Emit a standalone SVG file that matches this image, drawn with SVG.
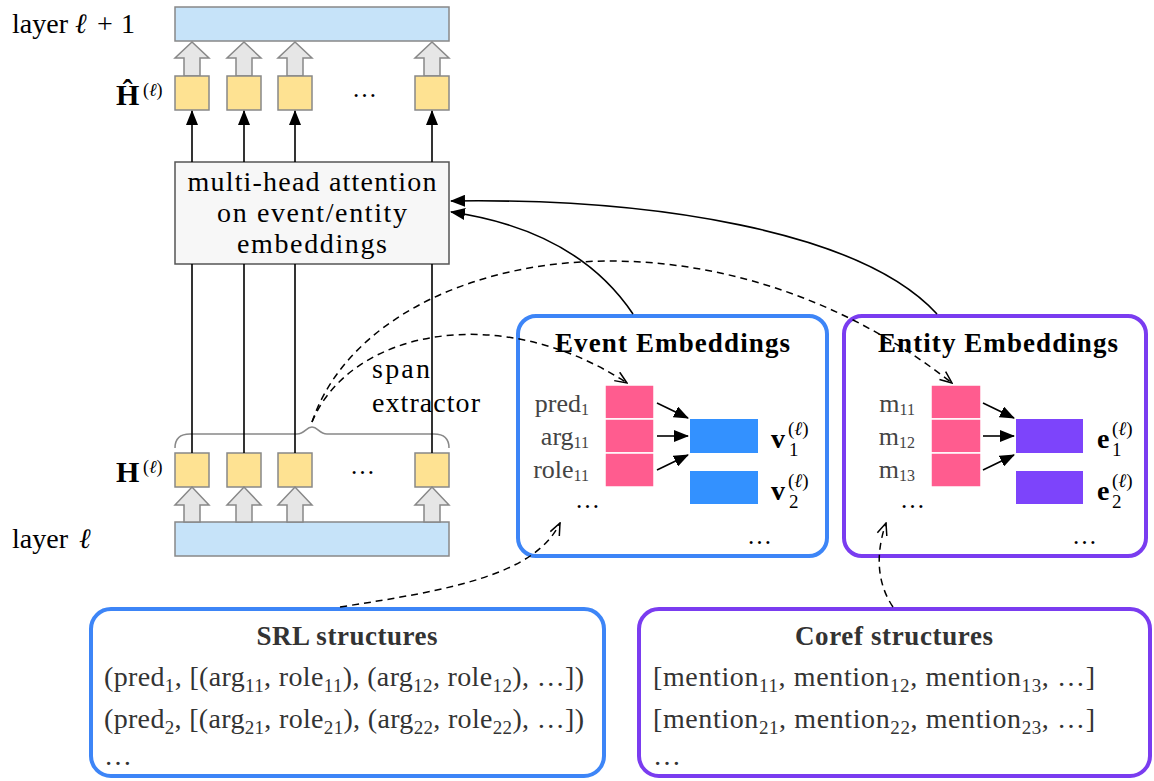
<svg xmlns="http://www.w3.org/2000/svg" width="1154" height="781" viewBox="0 0 1154 781">
  <defs>
    <style>
      .t{font-family:"Liberation Serif","DejaVu Serif",serif;fill:#000}
      .g{fill:#444}
      .d{fill:#333}
      .b{font-weight:bold}
      .layer{fill:#c6e3f9;stroke:#888;stroke-width:1.5}
      .cell{fill:#fee292;stroke:#888;stroke-width:1.5}
      .hollow{fill:#e6e6e6;stroke:#888;stroke-width:1.5}
      .pink{fill:#ff5c8f;stroke:#fff;stroke-width:1.5}
      .ev{fill:#3391ff}
      .en{fill:#7d44fb}
      .wire{fill:none;stroke:#000;stroke-width:1.6}
      .dash{fill:none;stroke:#000;stroke-width:1.5;stroke-dasharray:7 5}
    </style>
    <marker id="tri" markerUnits="userSpaceOnUse" markerWidth="15" markerHeight="12" refX="14" refY="6" orient="auto">
      <path d="M0,0 L15,6 L0,12 Z" fill="#000"/>
    </marker>
    <marker id="vee" markerUnits="userSpaceOnUse" markerWidth="14" markerHeight="12" refX="13" refY="6" orient="auto">
      <path d="M1,1 L13,6 L1,11" fill="none" stroke="#000" stroke-width="1.5"/>
    </marker>
  </defs>
  <rect width="1154" height="781" fill="#fff"/>

  <!-- layer l+1 -->
  <g id="layer-next">
    <rect class="layer" x="175" y="7" width="274" height="34"/>
    <text class="t" x="12" y="33" font-size="28">layer<tspan x="75" font-style="italic">ℓ</tspan><tspan x="97">+</tspan><tspan x="121">1</tspan></text>
  </g>

  <!-- hollow arrows into layer l+1 -->
  <g id="up-arrows-top">
    <path class="hollow" d="M184,76 V58 H175 L192,42 L209,58 H200 V76 Z"/>
    <path class="hollow" d="M236,76 V58 H227 L244,42 L261,58 H252 V76 Z"/>
    <path class="hollow" d="M287,76 V58 H278 L295,42 L312,58 H303 V76 Z"/>
    <path class="hollow" d="M424,76 V58 H415 L432,42 L449,58 H440 V76 Z"/>
  </g>

  <!-- output states -->
  <g id="h-hat">
    <rect class="cell" x="175" y="76" width="34" height="34"/>
    <rect class="cell" x="227" y="76" width="34" height="34"/>
    <rect class="cell" x="278" y="76" width="34" height="34"/>
    <rect class="cell" x="415" y="76" width="34" height="34"/>
    <text class="t" x="352" y="97" font-size="25">…</text>
    <text class="t b" x="116" y="105" font-size="30">Ĥ</text>
    <text class="t" x="143" y="96" font-size="18">(<tspan font-style="italic">ℓ</tspan>)</text>
  </g>

  <!-- attention block -->
  <g id="attention">
    <rect x="175" y="162" width="274" height="102" fill="#f7f7f7" stroke="#555" stroke-width="1.5"/>
    <text class="t" x="312" y="191" font-size="28" text-anchor="middle" textLength="249">multi-head attention</text>
    <text class="t" x="312" y="222" font-size="28" text-anchor="middle" textLength="190">on event/entity</text>
    <text class="t" x="312" y="253" font-size="28" text-anchor="middle" textLength="150">embeddings</text>
  </g>

  <!-- input states -->
  <g id="h">
    <rect class="cell" x="175" y="453" width="34" height="34"/>
    <rect class="cell" x="227" y="453" width="34" height="34"/>
    <rect class="cell" x="278" y="453" width="34" height="34"/>
    <rect class="cell" x="415" y="453" width="34" height="34"/>
    <text class="t" x="350" y="474" font-size="25">…</text>
    <text class="t b" x="116" y="482" font-size="30">H</text>
    <text class="t" x="143" y="473" font-size="18">(<tspan font-style="italic">ℓ</tspan>)</text>
  </g>

  <!-- span extractor brace -->
  <g id="span-extractor">
    <path d="M175,448 C175,438 180,434 190,434 H297 C305,434 306,427 312,427 C318,427 319,434 327,434 H434 C444,434 449,438 449,448" fill="none" stroke="#888" stroke-width="1.5"/>
    <text class="t" x="372" y="378" font-size="28" textLength="58">span</text>
    <text class="t" x="372" y="412" font-size="28" textLength="108">extractor</text>
  </g>

  <!-- layer l -->
  <g id="layer-cur">
    <rect class="layer" x="175" y="522" width="274" height="34"/>
    <text class="t" x="12" y="548" font-size="28">layer<tspan x="79" font-style="italic">ℓ</tspan></text>
  </g>

  <g id="up-arrows-bottom">
    <path class="hollow" d="M184,522 V505 H175 L192,487 L209,505 H200 V522 Z"/>
    <path class="hollow" d="M236,522 V505 H227 L244,487 L261,505 H252 V522 Z"/>
    <path class="hollow" d="M287,522 V505 H278 L295,487 L312,505 H303 V522 Z"/>
    <path class="hollow" d="M424,522 V505 H415 L432,487 L449,505 H440 V522 Z"/>
  </g>

  <!-- event embeddings -->
  <g id="event-embeddings">
    <rect x="518" y="316" width="309" height="240" rx="18" fill="none" stroke="#3d85f7" stroke-width="4"/>
    <text class="t b" x="555" y="352" font-size="27" textLength="235">Event Embeddings</text>
    <rect class="pink" x="605" y="385" width="49" height="34"/>
    <rect class="pink" x="605" y="419" width="49" height="34"/>
    <rect class="pink" x="605" y="453" width="49" height="34"/>
    <text class="t g" x="589" y="412" font-size="26" text-anchor="end">pred<tspan font-size="16" dy="3">1</tspan></text>
    <text class="t g" x="589" y="445" font-size="26" text-anchor="end">arg<tspan font-size="16" dy="3">11</tspan></text>
    <text class="t g" x="589" y="478" font-size="26" text-anchor="end">role<tspan font-size="16" dy="3">11</tspan></text>
    <text class="t" x="575" y="508" font-size="25">…</text>
    <rect class="ev" x="690" y="419" width="68" height="34"/>
    <rect class="ev" x="690" y="471" width="68" height="33"/>
    <text class="t b" x="771" y="448" font-size="28">v</text>
    <text class="t" x="789" y="456" font-size="19">1</text>
    <text class="t" x="788" y="435" font-size="19">(<tspan font-style="italic">ℓ</tspan>)</text>
    <text class="t b" x="771" y="500" font-size="28">v</text>
    <text class="t" x="789" y="508" font-size="19">2</text>
    <text class="t" x="788" y="487" font-size="19">(<tspan font-style="italic">ℓ</tspan>)</text>
    <text class="t" x="747" y="544" font-size="25">…</text>
  </g>

  <!-- entity embeddings -->
  <g id="entity-embeddings">
    <rect x="844" y="316" width="302" height="240" rx="18" fill="none" stroke="#7a3cf0" stroke-width="4"/>
    <text class="t b" x="878" y="352" font-size="27" textLength="240">Entity Embeddings</text>
    <rect class="pink" x="931" y="385" width="50" height="34"/>
    <rect class="pink" x="931" y="419" width="50" height="34"/>
    <rect class="pink" x="931" y="453" width="50" height="34"/>
    <text class="t g" x="915" y="412" font-size="26" text-anchor="end">m<tspan font-size="16" dy="3">11</tspan></text>
    <text class="t g" x="915" y="445" font-size="26" text-anchor="end">m<tspan font-size="16" dy="3">12</tspan></text>
    <text class="t g" x="915" y="478" font-size="26" text-anchor="end">m<tspan font-size="16" dy="3">13</tspan></text>
    <text class="t" x="900" y="508" font-size="25">…</text>
    <rect class="en" x="1016" y="419" width="67" height="34"/>
    <rect class="en" x="1016" y="471" width="67" height="33"/>
    <text class="t b" x="1097" y="448" font-size="28">e</text>
    <text class="t" x="1112" y="456" font-size="19">1</text>
    <text class="t" x="1112" y="435" font-size="19">(<tspan font-style="italic">ℓ</tspan>)</text>
    <text class="t b" x="1097" y="500" font-size="28">e</text>
    <text class="t" x="1112" y="508" font-size="19">2</text>
    <text class="t" x="1112" y="487" font-size="19">(<tspan font-style="italic">ℓ</tspan>)</text>
    <text class="t" x="1072" y="544" font-size="25">…</text>
  </g>

  <!-- SRL structures -->
  <g id="srl">
    <rect x="91" y="609" width="513" height="167" rx="20" fill="none" stroke="#3d85f7" stroke-width="4"/>
    <text class="t d b" x="347" y="645" font-size="27" text-anchor="middle" textLength="181">SRL structures</text>
    <text class="t d" x="104" y="686" font-size="28" textLength="480">(pred<tspan font-size="19" dy="6">1</tspan><tspan dy="-6">, [(arg</tspan><tspan font-size="19" dy="6">11</tspan><tspan dy="-6">, role</tspan><tspan font-size="19" dy="6">11</tspan><tspan dy="-6">), (arg</tspan><tspan font-size="19" dy="6">12</tspan><tspan dy="-6">, role</tspan><tspan font-size="19" dy="6">12</tspan><tspan dy="-6">), …])</tspan></text>
    <text class="t d" x="104" y="728" font-size="28" textLength="480">(pred<tspan font-size="19" dy="6">2</tspan><tspan dy="-6">, [(arg</tspan><tspan font-size="19" dy="6">21</tspan><tspan dy="-6">, role</tspan><tspan font-size="19" dy="6">21</tspan><tspan dy="-6">), (arg</tspan><tspan font-size="19" dy="6">22</tspan><tspan dy="-6">, role</tspan><tspan font-size="19" dy="6">22</tspan><tspan dy="-6">), …])</tspan></text>
    <text class="t d" x="104" y="765" font-size="28">…</text>
  </g>

  <!-- Coref structures -->
  <g id="coref">
    <rect x="639" y="609" width="511" height="167" rx="20" fill="none" stroke="#7a3cf0" stroke-width="4"/>
    <text class="t d b" x="894" y="645" font-size="27" text-anchor="middle" textLength="198">Coref structures</text>
    <text class="t d" x="653" y="686" font-size="28" textLength="442">[mention<tspan font-size="19" dy="6">11</tspan><tspan dy="-6">, mention</tspan><tspan font-size="19" dy="6">12</tspan><tspan dy="-6">, mention</tspan><tspan font-size="19" dy="6">13</tspan><tspan dy="-6">, …]</tspan></text>
    <text class="t d" x="653" y="728" font-size="28" textLength="442">[mention<tspan font-size="19" dy="6">21</tspan><tspan dy="-6">, mention</tspan><tspan font-size="19" dy="6">22</tspan><tspan dy="-6">, mention</tspan><tspan font-size="19" dy="6">23</tspan><tspan dy="-6">, …]</tspan></text>
    <text class="t d" x="653" y="765" font-size="28">…</text>
  </g>

  <!-- connectors -->
  <g id="connectors">
    <!-- attention outputs to Ĥ -->
    <path class="wire" d="M192,162 V111" marker-end="url(#tri)"/>
    <path class="wire" d="M244,162 V111" marker-end="url(#tri)"/>
    <path class="wire" d="M295,162 V111" marker-end="url(#tri)"/>
    <path class="wire" d="M432,162 V111" marker-end="url(#tri)"/>
    <!-- H into attention -->
    <path class="wire" d="M192,453 V264"/>
    <path class="wire" d="M244,453 V264"/>
    <path class="wire" d="M295,453 V264"/>
    <path class="wire" d="M432,453 V264"/>
    <!-- embeddings into attention -->
    <path class="wire" d="M633,314 C590,250 520,222 451,212" marker-end="url(#tri)"/>
    <path class="wire" d="M937,314 C860,230 650,198 451,201" marker-end="url(#tri)"/>
    <!-- span extractor to embeddings -->
    <path class="dash" d="M312,422 C350,330 500,300 627,383" marker-end="url(#vee)"/>
    <path class="dash" d="M312,422 C370,250 700,185 952,383" marker-end="url(#vee)"/>
    <!-- structures to embeddings -->
    <path class="dash" d="M340,607 C450,590 535,575 560,523" marker-end="url(#vee)"/>
    <path class="dash" d="M893,607 C876,582 876,552 886,523" marker-end="url(#vee)"/>
    <!-- pooling arrows -->
    <path class="wire" d="M657,403 L688,418" marker-end="url(#tri)"/>
    <path class="wire" d="M657,436 L688,436" marker-end="url(#tri)"/>
    <path class="wire" d="M657,470 L688,455" marker-end="url(#tri)"/>
    <path class="wire" d="M983,403 L1014,418" marker-end="url(#tri)"/>
    <path class="wire" d="M983,436 L1014,436" marker-end="url(#tri)"/>
    <path class="wire" d="M983,470 L1014,455" marker-end="url(#tri)"/>
  </g>
</svg>
